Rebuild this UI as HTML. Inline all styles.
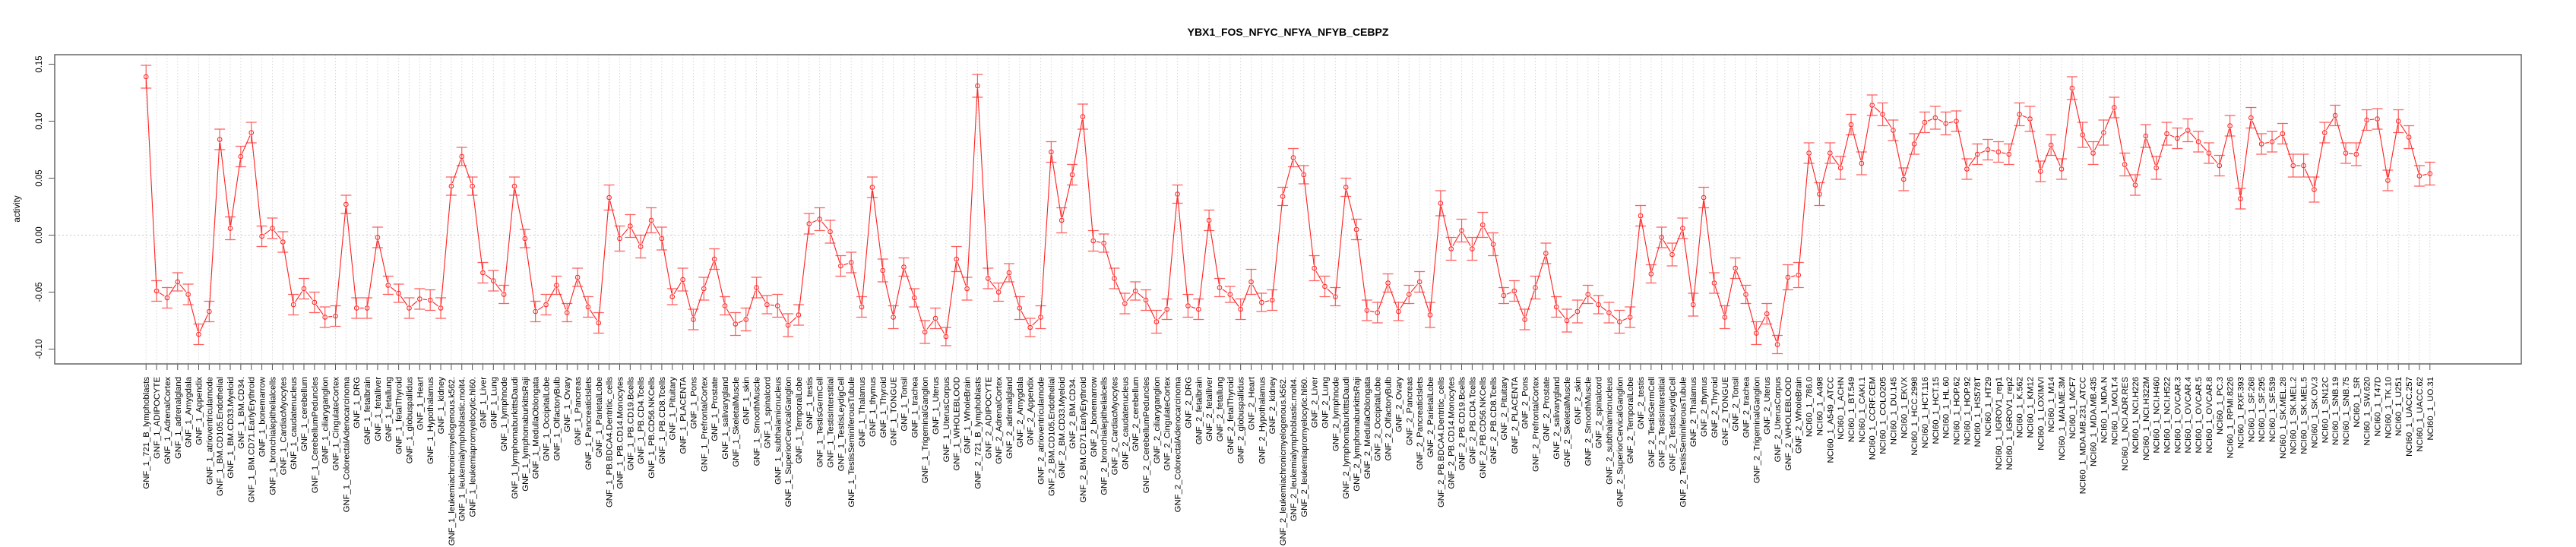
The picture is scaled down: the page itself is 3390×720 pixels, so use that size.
<!DOCTYPE html>
<html>
<head>
<meta charset="utf-8">
<style>
  html,body{margin:0;padding:0;background:#fff;}
  svg{display:block;font-family:"Liberation Sans",Arial,sans-serif;}
</style>
</head>
<body>
<svg id="chart" width="3390" height="720" viewBox="0 0 3390 720" xmlns="http://www.w3.org/2000/svg">
  <text x="1695" y="47" text-anchor="middle" font-size="14" font-weight="bold">YBX1_FOS_NFYC_NFYA_NFYB_CEBPZ</text>
  <text transform="translate(26,275) rotate(-90)" text-anchor="middle" font-size="11.5">activity</text>
  <g id="grid"></g>
  <g id="yaxis"></g>
  <g id="xaxis"></g>
  <g id="series"></g>
  <rect x="72" y="72" width="3246" height="407" fill="none" stroke="#666" stroke-width="1.5"/>
</svg>
<script>
const tissues = ["721_B_lymphoblasts","ADIPOCYTE","AdrenalCortex","adrenalgland","Amygdala","Appendix","atrioventricularnode","BM.CD105.Endothelial","BM.CD33.Myeloid","BM.CD34.","BM.CD71.EarlyErythroid","bonemarrow","bronchialepithelialcells","CardiacMyocytes","caudatenucleus","cerebellum","CerebellumPeduncles","ciliaryganglion","CingulateCortex","ColorectalAdenocarcinoma","DRG","fetalbrain","fetalliver","fetallung","fetalThyroid","globuspallidus","Heart","Hypothalamus","kidney","leukemiachronicmyelogenous.k562.","leukemialymphoblastic.molt4.","leukemiapromyelocytic.hl60.","Liver","Lung","lymphnode","lymphomaburkittsDaudi","lymphomaburkittsRaji","MedullaOblongata","OccipitalLobe","OlfactoryBulb","Ovary","Pancreas","PancreaticIslets","ParietalLobe","PB.BDCA4.Dentritic_cells","PB.CD14.Monocytes","PB.CD19.Bcells","PB.CD4.Tcells","PB.CD56.NKCells","PB.CD8.Tcells","Pituitary","PLACENTA","Pons","PrefrontalCortex","Prostate","salivarygland","SkeletalMuscle","skin","SmoothMuscle","spinalcord","subthalamicnucleus","SuperiorCervicalGanglion","TemporalLobe","testis","TestisGermCell","TestisInterstitial","TestisLeydigCell","TestisSeminiferousTubule","Thalamus","thymus","Thyroid","TONGUE","Tonsil","trachea","TrigeminalGanglion","Uterus","UterusCorpus","WHOLEBLOOD","WholeBrain"];
const nciLines = ["786.0","A498","A549_ATCC","ACHN","BT.549","CAKI.1","CCRF.CEM","COLO205","DU.145","EKVX","HCC.2998","HCT.116","HCT.15","HL.60","HOP.62","HOP.92","HS578T","HT29","IGROV1_rep1","IGROV1_rep2","K.562","KM12","LOXIMVI","M14","MALME.3M","MCF7","MDA.MB.231_ATCC","MDA.MB.435","MDA.N","MOLT.4","NCI.ADR.RES","NCI.H226","NCI.H322M","NCI.H460","NCI.H522","OVCAR.3","OVCAR.4","OVCAR.5","OVCAR.8","PC.3","RPMI.8226","RXF.393","SF.268","SF.295","SF.539","SK.MEL.28","SK.MEL.2","SK.MEL.5","SK.OV.3","SN12C","SNB.19","SNB.75","SR","SW.620","T47D","TK.10","U251","UACC.257","UACC.62","UO.31"];
const categories = tissues.map(t => "GNF_1_" + t).concat(tissues.map(t => "GNF_2_" + t), nciLines.map(t => "NCI60_1_" + t));

const gnf1Values = [0.139,-0.049,-0.055,-0.041,-0.052,-0.087,-0.067,0.084,0.006,0.069,
0.090,-0.001,0.006,-0.006,-0.061,-0.047,-0.059,-0.072,-0.071,0.027,
-0.064,-0.064,-0.002,-0.044,-0.051,-0.064,-0.056,-0.057,-0.064,0.043,
0.069,0.043,-0.033,-0.040,-0.052,0.043,-0.003,-0.067,-0.061,-0.044,
-0.068,-0.037,-0.063,-0.077,0.033,-0.003,0.008,-0.010,0.013,-0.003,
-0.054,-0.039,-0.074,-0.047,-0.021,-0.062,-0.078,-0.074,-0.046,-0.061,
-0.062,-0.079,-0.070,0.010,0.014,0.003,-0.027,-0.024,-0.063,0.042,
-0.031,-0.072,-0.028,-0.055,-0.085,-0.073,-0.089,-0.021,-0.047];
const gnf2Values = [0.131,-0.038,-0.050,-0.033,-0.064,-0.081,-0.072,0.073,0.013,0.053,
0.104,-0.005,-0.007,-0.038,-0.060,-0.049,-0.057,-0.076,-0.065,0.036,
-0.062,-0.065,0.013,-0.046,-0.052,-0.065,-0.041,-0.059,-0.057,0.034,
0.068,0.053,-0.029,-0.045,-0.054,0.042,0.005,-0.066,-0.068,-0.042,
-0.067,-0.052,-0.041,-0.070,0.028,-0.012,0.004,-0.012,0.009,-0.008,
-0.053,-0.049,-0.074,-0.046,-0.016,-0.063,-0.075,-0.067,-0.052,-0.061,
-0.068,-0.076,-0.072,0.017,-0.034,-0.002,-0.017,0.006,-0.061,0.033,
-0.042,-0.072,-0.029,-0.052,-0.086,-0.069,-0.096,-0.037,-0.035];
const nciValues = [0.072,0.036,0.072,0.059,0.097,0.063,0.114,0.106,0.092,0.049,
0.080,0.099,0.103,0.098,0.100,0.058,0.071,0.075,0.073,0.071,
0.106,0.102,0.056,0.079,0.058,0.129,0.088,0.072,0.090,0.112,
0.062,0.044,0.087,0.059,0.089,0.085,0.092,0.082,0.072,0.061,
0.096,0.032,0.103,0.080,0.082,0.089,0.061,0.061,0.040,0.090,
0.105,0.072,0.071,0.101,0.102,0.048,0.100,0.086,0.052,0.054];
const values = gnf1Values.concat(gnf2Values, nciValues);

const errors = [
0.010,0.009,0.009,0.008,0.009,0.009,0.009,0.009,0.010,0.009,0.009,0.009,0.009,0.009,0.009,0.009,0.009,0.009,0.009,0.008,
0.009,0.009,0.009,0.008,0.008,0.009,0.009,0.009,0.009,0.008,0.008,0.008,0.009,0.009,0.008,0.008,0.008,0.009,0.009,0.008,
0.008,0.008,0.009,0.009,0.011,0.011,0.010,0.010,0.011,0.010,0.007,0.010,0.009,0.010,0.009,0.008,0.010,0.010,0.009,0.008,
0.010,0.010,0.009,0.009,0.010,0.010,0.009,0.009,0.009,0.009,0.010,0.010,0.008,0.008,0.010,0.009,0.008,0.011,0.010,0.010,
0.009,0.008,0.008,0.010,0.008,0.010,0.009,0.011,0.009,0.011,0.009,0.008,0.009,0.009,0.008,0.009,0.010,0.009,0.008,0.010,
0.009,0.009,0.008,0.007,0.009,0.011,0.008,0.009,0.008,0.008,0.008,0.011,0.009,0.008,0.008,0.009,0.009,0.009,0.008,0.008,
0.008,0.009,0.011,0.011,0.010,0.010,0.010,0.011,0.010,0.007,0.009,0.009,0.010,0.009,0.009,0.010,0.010,0.008,0.008,0.009,
0.010,0.009,0.009,0.008,0.009,0.010,0.009,0.010,0.009,0.009,0.010,0.009,0.008,0.010,0.009,0.008,0.011,0.011,0.009,0.010,
0.009,0.010,0.009,0.010,0.009,0.010,0.009,0.010,0.009,0.009,0.010,0.010,0.009,0.009,0.009,0.009,0.009,0.009,0.010,0.011,
0.009,0.009,0.009,0.010,0.011,0.010,0.011,0.009,0.010,0.009,0.010,0.010,0.010,0.009,0.010,0.009,0.009,0.009,0.009,0.009,
0.009,0.009,0.009,0.009,0.010,0.010,0.011,0.009,0.009,0.009,0.010,0.009,0.009,0.009,0.010,0.010,0.009,0.010];

const yTicks = [0.15, 0.10, 0.05, 0.00, -0.05, -0.10];
const yTickLabels = ["0.15", "0.10", "0.05", "0.00", "-0.05", "-0.10"];

const NS = "http://www.w3.org/2000/svg";
const plotLeft = 72, plotRight = 3318, plotTop = 72, plotBottom = 479;
const n = categories.length;
const range = (n - 1) * 1.08;
function xScale(i) { return plotLeft + (i + (n - 1) * 0.04) / range * (plotRight - plotLeft); }
const yMin = -0.1235, yMax = 0.1478;
function yScale(v) { return 309.5 - v * 1500; }

function mk(tag, attrs, parent) {
  const el = document.createElementNS(NS, tag);
  for (const k in attrs) el.setAttribute(k, attrs[k]);
  parent.appendChild(el);
  return el;
}

const grid = document.getElementById("grid");
const yaxis = document.getElementById("yaxis");
const xaxis = document.getElementById("xaxis");
const series = document.getElementById("series");

// zero reference line
const zl = mk("line", {x1: plotLeft, x2: plotRight, y1: yScale(0), y2: yScale(0), stroke: "#c8c8c8", "stroke-width": 1, "stroke-dasharray": "2,3"}, grid);



// y axis ticks
yTicks.forEach((v, k) => {
  const y = yScale(v);
  const t = mk("line", {x1: plotLeft - 8, x2: plotLeft, y1: y, y2: y, stroke: "#555", "stroke-width": 1}, yaxis);
  
  
  const lb = mk("text", {transform: "translate(55," + y + ") rotate(-90)", "text-anchor": "middle", "font-size": "11.5"}, yaxis);
  lb.textContent = yTickLabels[k];
  
  
});

// categories: gridlines, ticks, labels
categories.forEach((c, i) => {
  const x = xScale(i);
  const g = mk("line", {x1: x, x2: x, y1: plotTop, y2: plotBottom, stroke: "#d6d6d6", "stroke-width": 1, "stroke-dasharray": "1.5,2.5"}, grid);
  
  
  const t = mk("line", {x1: x, x2: x, y1: plotBottom, y2: plotBottom + 8, stroke: "#555", "stroke-width": 1}, xaxis);
  
  
  const lb = mk("text", {transform: "translate(" + (x + 4) + ",496) rotate(-90)", "text-anchor": "end", "font-size": "11.3"}, xaxis);
  lb.textContent = c;
  
  
});

// connecting line segments (type "b": gaps around points)
const r = 2.8;
for (let i = 0; i < n - 1; i++) {
  const x1 = xScale(i), y1 = yScale(values[i]), x2 = xScale(i + 1), y2 = yScale(values[i + 1]);
  const dx = x2 - x1, dy = y2 - y1, len = Math.hypot(dx, dy);
  const gap = r + 1.5;
  if (len <= 2 * gap) continue;
  const ux = dx / len, uy = dy / len;
  const seg = mk("line", {x1: x1 + ux * gap, y1: y1 + uy * gap, x2: x2 - ux * gap, y2: y2 - uy * gap, stroke: "#ff2020", "stroke-width": 1.1}, series);
  
  
}

// error bars and points
values.forEach((v, i) => {
  const x = xScale(i), e = errors[i];
  const yt = yScale(v + e), yb = yScale(v - e);
  const eb = mk("path", {d: "M" + x + " " + yt + "V" + yb + "M" + (x - 7) + " " + yt + "H" + (x + 7) + "M" + (x - 7) + " " + yb + "H" + (x + 7), stroke: "rgba(255,40,40,0.75)", "stroke-width": 1.2, fill: "none"}, series);
  
  
  const pt = mk("circle", {cx: x, cy: yScale(v), r: r, fill: "none", stroke: "#ff2020", "stroke-width": 1}, series);
  
  
});
</script>
</body>
</html>
